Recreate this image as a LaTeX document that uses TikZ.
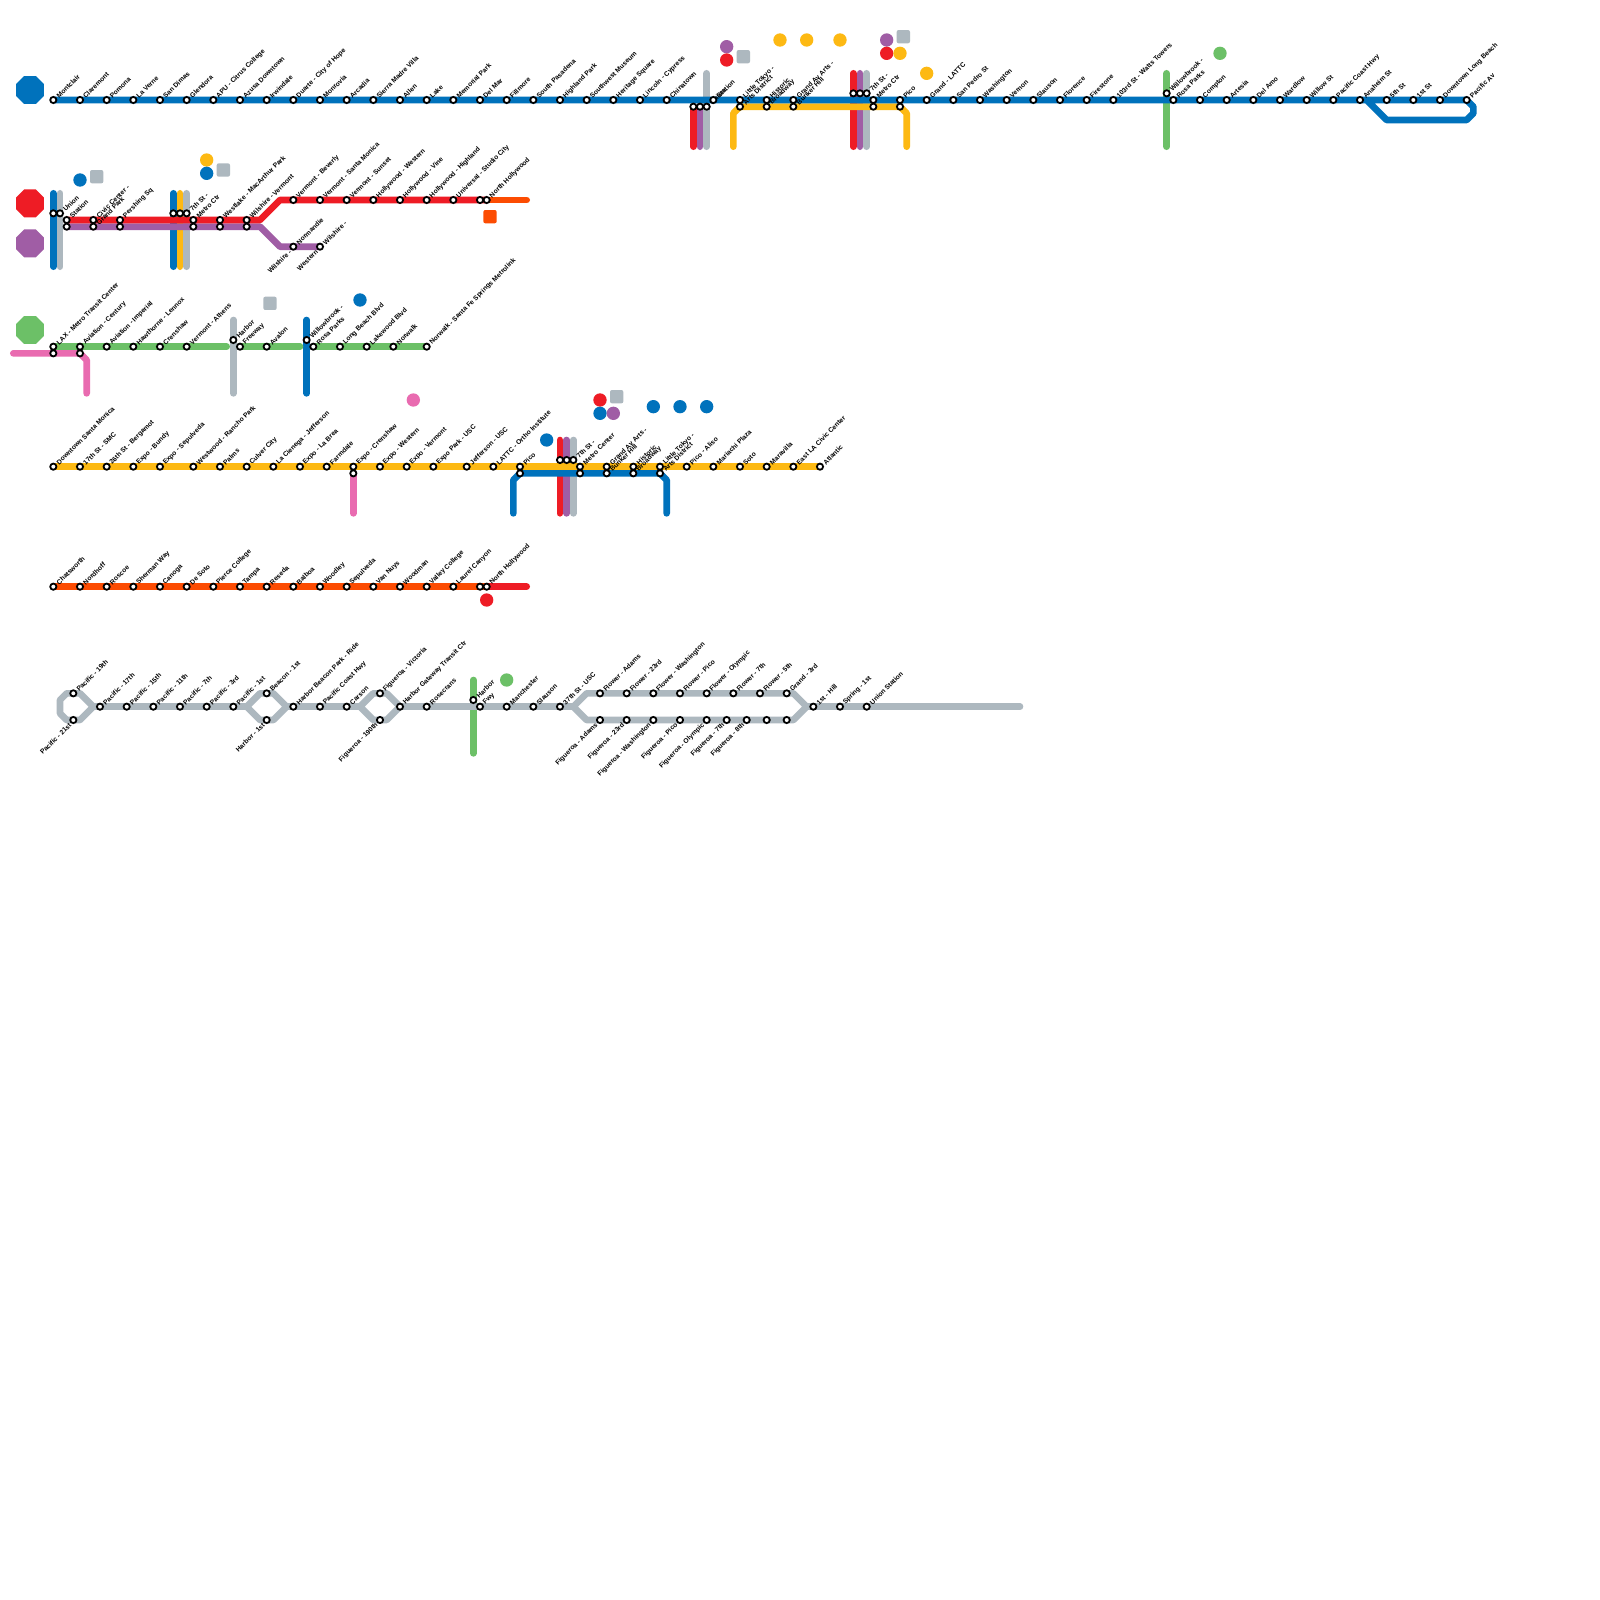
\documentclass[tikz,border=0pt]{standalone}
\usepackage{fontspec}
\setmainfont{Liberation Sans}
\usetikzlibrary{backgrounds,shapes.geometric}
\definecolor{mblue}{HTML}{0072BC}
\definecolor{mred}{HTML}{EE1C25}
\definecolor{mpurple}{HTML}{A05DA5}
\definecolor{mgrey}{HTML}{ADB8BF}
\definecolor{mgold}{HTML}{FDB913}
\definecolor{mgreen}{HTML}{6CC067}
\definecolor{mpink}{HTML}{E96BB0}
\definecolor{morange}{HTML}{FC4C02}
\tikzset{
  stn/.style={circle,draw=black,fill=white,line width=0.9pt,minimum size=3.1pt,inner sep=0pt,outer sep=0pt},
  lab/.style={font=\fontsize{3.35}{3.35}\selectfont\bfseries,text=black,rotate=45,inner sep=0pt,outer sep=0pt},
  ln/.style={line width=3.333pt,line cap=round,line join=round},
  dot/.style={circle,minimum size=6.667pt,inner sep=0pt,outer sep=0pt},
  sq/.style={rectangle,rounded corners=1pt,minimum size=6.667pt,inner sep=0pt,outer sep=0pt},
  octa/.style={regular polygon,regular polygon sides=8,minimum size=15.15pt,inner sep=0pt,outer sep=0pt}
}
\newcommand{\st}[4]{\node[stn] (#1) at (#2,#3) {};\node[lab,anchor=west] (#1t) at (#2+4.3,#3-3.1) {#4};}
\newcommand{\sd}[4]{\node[stn] (#1) at (#2,#3) {};\node[lab,anchor=east] (#1t) at (#2-3.2,#3+4.2) {#4};}
\newcommand{\sn}[3]{\node[stn] (#1) at (#2,#3) {};}
\newcommand{\dl}[4]{\node[lab,anchor=east] (#1t) at (#2-3.2,#3+4.2) {#4};}
\begin{document}
\begin{tikzpicture}[x=0.5pt,y=-0.5pt]
\useasboundingbox (0,0) rectangle (1600,1600);
% legend
\node[octa,fill=mblue] (legA) at (30,90) {};
\node[octa,fill=mred] (legB) at (30,203.33) {};
\node[octa,fill=mpurple] (legC) at (30,243.33) {};
\node[octa,fill=mgreen] (legD) at (30,330) {};
% markers
\node[dot,fill=mpurple] (k1) at (726.67,46.67) {};
\node[dot,fill=mred] (k2) at (726.67,60) {};
\node[sq,fill=mgrey] (k3) at (743.33,56.67) {};
\node[dot,fill=mgold] (k4) at (780,40) {};
\node[dot,fill=mgold] (k5) at (806.67,40) {};
\node[dot,fill=mgold] (k6) at (840,40) {};
\node[dot,fill=mpurple] (k7) at (886.67,40) {};
\node[dot,fill=mred] (k8) at (886.67,53.33) {};
\node[dot,fill=mgold] (k9) at (900,53.33) {};
\node[sq,fill=mgrey] (k10) at (903.33,36.67) {};
\node[dot,fill=mgold] (k11) at (926.67,73.33) {};
\node[dot,fill=mgreen] (k12) at (1220,53.33) {};
\node[dot,fill=mblue] (k13) at (80,180) {};
\node[sq,fill=mgrey] (k14) at (96.67,176.67) {};
\node[dot,fill=mgold] (k15) at (206.67,160) {};
\node[dot,fill=mblue] (k16) at (206.67,173.33) {};
\node[sq,fill=mgrey] (k17) at (223.33,170) {};
\node[sq,fill=morange] (k18) at (490,216.67) {};
\node[sq,fill=mgrey] (k19) at (270,303.33) {};
\node[dot,fill=mblue] (k20) at (360,300) {};
\node[dot,fill=mpink] (k21) at (413.33,400) {};
\node[dot,fill=mred] (k22) at (600,400) {};
\node[sq,fill=mgrey] (k23) at (616.67,396.67) {};
\node[dot,fill=mblue] (k24) at (600,413.33) {};
\node[dot,fill=mpurple] (k25) at (613.33,413.33) {};
\node[dot,fill=mblue] (k26) at (653.33,406.67) {};
\node[dot,fill=mblue] (k27) at (680,406.67) {};
\node[dot,fill=mblue] (k28) at (706.67,406.67) {};
\node[dot,fill=mblue] (k29) at (546.67,440) {};
\node[dot,fill=mred] (k30) at (486.67,600) {};
\node[dot,fill=mgreen] (k31) at (506.67,680) {};
% row 1
\st{a1}{53.33}{100}{Montclair}
\st{a2}{80}{100}{Claremont}
\st{a3}{106.67}{100}{Pomona}
\st{a4}{133.33}{100}{La Verne}
\st{a5}{160}{100}{San Dimas}
\st{a6}{186.67}{100}{Glendora}
\st{a7}{213.33}{100}{APU - Citrus College}
\st{a8}{240}{100}{Azusa Downtown}
\st{a9}{266.67}{100}{Irwindale}
\st{a10}{293.33}{100}{Duarte - City of Hope}
\st{a11}{320}{100}{Monrovia}
\st{a12}{346.67}{100}{Arcadia}
\st{a13}{373.33}{100}{Sierra Madre Villa}
\st{a14}{400}{100}{Allen}
\st{a15}{426.67}{100}{Lake}
\st{a16}{453.33}{100}{Memorial Park}
\st{a17}{480}{100}{Del Mar}
\st{a18}{506.67}{100}{Fillmore}
\st{a19}{533.33}{100}{South Pasadena}
\st{a20}{560}{100}{Highland Park}
\st{a21}{586.67}{100}{Southwest Museum}
\st{a22}{613.33}{100}{Heritage Square}
\st{a23}{640}{100}{Lincoln - Cypress}
\st{a24}{666.67}{100}{Chinatown}
\sn{u1}{693.33}{106.67}
\sn{u2}{700}{106.67}
\st{u3}{706.67}{106.67}{Union}
\st{a25}{713.33}{100}{Station}
\st{a26}{740}{100}{Little Tokyo -}
\st{y1}{740}{106.67}{Arts District}
\st{a27}{766.67}{100}{Historic}
\st{y2}{766.67}{106.67}{Broadway}
\st{a28}{793.33}{100}{Grand Av Arts -}
\st{y3}{793.33}{106.67}{Bunker Hill}
\sn{s1}{853.33}{93.33}
\sn{s2}{860}{93.33}
\st{s3}{866.67}{93.33}{7th St -}
\st{a29}{873.33}{100}{Metro Ctr}
\sn{y4}{873.33}{106.67}
\st{a30}{900}{100}{Pico}
\sn{y5}{900}{106.67}
\st{a31}{926.67}{100}{Grand - LATTC}
\st{a32}{953.33}{100}{San Pedro St}
\st{a33}{980}{100}{Washington}
\st{a34}{1006.67}{100}{Vernon}
\st{a35}{1033.33}{100}{Slauson}
\st{a36}{1060}{100}{Florence}
\st{a37}{1086.67}{100}{Firestone}
\st{a38}{1113.33}{100}{103rd St - Watts Towers}
\st{w1}{1166.67}{93.33}{Willowbrook -}
\st{a39}{1173.33}{100}{Rosa Parks}
\st{a40}{1200}{100}{Compton}
\st{a41}{1226.67}{100}{Artesia}
\st{a42}{1253.33}{100}{Del Amo}
\st{a43}{1280}{100}{Wardlow}
\st{a44}{1306.67}{100}{Willow St}
\st{a45}{1333.33}{100}{Pacific Coast Hwy}
\st{a46}{1360}{100}{Anaheim St}
\st{a47}{1386.67}{100}{5th St}
\st{a48}{1413.33}{100}{1st St}
\st{a49}{1440}{100}{Downtown Long Beach}
\st{a50}{1466.67}{100}{Pacific Av}
% row 2
\sn{b1}{53.33}{213.33}
\st{b2}{60}{213.33}{Union}
\st{b3}{66.67}{220}{Station}
\sn{c3}{66.67}{226.67}
\st{b4}{93.33}{220}{Civic Center -}
\st{c4}{93.33}{226.67}{Grand Park}
\st{b5}{120}{220}{Pershing Sq}
\sn{c5}{120}{226.67}
\sn{b6}{173.33}{213.33}
\sn{b7}{180}{213.33}
\st{b8}{186.67}{213.33}{7th St -}
\st{b9}{193.33}{220}{Metro Ctr}
\sn{c9}{193.33}{226.67}
\st{b10}{220}{220}{Westlake - MacArthur Park}
\sn{c10}{220}{226.67}
\st{b11}{246.67}{220}{Wilshire - Vermont}
\sn{c11}{246.67}{226.67}
\st{b12}{293.33}{200}{Vermont - Beverly}
\st{b13}{320}{200}{Vermont - Santa Monica}
\st{b14}{346.67}{200}{Vermont - Sunset}
\st{b15}{373.33}{200}{Hollywood - Western}
\st{b16}{400}{200}{Hollywood - Vine}
\st{b17}{426.67}{200}{Hollywood - Highland}
\st{b18}{453.33}{200}{Universal - Studio City}
\sn{b19}{480}{200}
\st{b20}{486.67}{200}{North Hollywood}
\st{c12}{293.33}{246.67}{Normandie}
\dl{c12d}{293.33}{246.67}{Wilshire -}
\st{c13}{320}{246.67}{Wilshire -}
\dl{c13d}{320}{246.67}{Western}
% row 3
\st{d1}{53.33}{346.67}{LAX - Metro Transit Center}
\sn{e1}{53.33}{353.33}
\st{d2}{80}{346.67}{Aviation - Century}
\sn{e2}{80}{353.33}
\st{d3}{106.67}{346.67}{Aviation - Imperial}
\st{d4}{133.33}{346.67}{Hawthorne - Lennox}
\st{d5}{160}{346.67}{Crenshaw}
\st{d6}{186.67}{346.67}{Vermont - Athens}
\st{d7}{233.33}{340}{Harbor}
\st{d8}{240}{346.67}{Freeway}
\st{d9}{266.67}{346.67}{Avalon}
\st{d10}{306.67}{340}{Willowbrook -}
\st{d11}{313.33}{346.67}{Rosa Parks}
\st{d12}{340}{346.67}{Long Beach Blvd}
\st{d13}{366.67}{346.67}{Lakewood Blvd}
\st{d14}{393.33}{346.67}{Norwalk}
\st{d15}{426.67}{346.67}{Norwalk - Santa Fe Springs Metrolink}
% row 4
\st{f1}{53.33}{466.67}{Downtown Santa Monica}
\st{f2}{80}{466.67}{17th St - SMC}
\st{f3}{106.67}{466.67}{26th St - Bergamot}
\st{f4}{133.33}{466.67}{Expo - Bundy}
\st{f5}{160}{466.67}{Expo - Sepulveda}
\st{f6}{193.33}{466.67}{Westwood - Rancho Park}
\st{f7}{220}{466.67}{Palms}
\st{f8}{246.67}{466.67}{Culver City}
\st{f9}{273.33}{466.67}{La Cienega - Jefferson}
\st{f10}{300}{466.67}{Expo - La Brea}
\st{f11}{326.67}{466.67}{Farmdale}
\st{f12}{353.33}{466.67}{Expo - Crenshaw}
\sn{f12p}{353.33}{473.33}
\st{f13}{380}{466.67}{Expo - Western}
\st{f14}{406.67}{466.67}{Expo - Vermont}
\st{f15}{433.33}{466.67}{Expo Park - USC}
\st{f16}{466.67}{466.67}{Jefferson - USC}
\st{f17}{493.33}{466.67}{LATTC - Ortho Institute}
\st{f18}{520}{466.67}{Pico}
\sn{g18}{520}{473.33}
\sn{t1}{560}{460}
\sn{t2}{566.67}{460}
\st{t3}{573.33}{460}{7th St -}
\st{f19}{580}{466.67}{Metro Center}
\sn{g19}{580}{473.33}
\st{f20}{606.67}{466.67}{Grand Av Arts -}
\st{g20}{606.67}{473.33}{Bunker Hill}
\st{f21}{633.33}{466.67}{Historic}
\st{g21}{633.33}{473.33}{Broadway}
\st{f22}{660}{466.67}{Little Tokyo -}
\st{g22}{660}{473.33}{Arts District}
\st{f23}{686.67}{466.67}{Pico - Aliso}
\st{f24}{713.33}{466.67}{Mariachi Plaza}
\st{f25}{740}{466.67}{Soto}
\st{f26}{766.67}{466.67}{Maravilla}
\st{f27}{793.33}{466.67}{East LA Civic Center}
\st{f28}{820}{466.67}{Atlantic}
% row 5
\st{h1}{53.33}{586.67}{Chatsworth}
\st{h2}{80}{586.67}{Nordhoff}
\st{h3}{106.67}{586.67}{Roscoe}
\st{h4}{133.33}{586.67}{Sherman Way}
\st{h5}{160}{586.67}{Canoga}
\st{h6}{186.67}{586.67}{De Soto}
\st{h7}{213.33}{586.67}{Pierce College}
\st{h8}{240}{586.67}{Tampa}
\st{h9}{266.67}{586.67}{Reseda}
\st{h10}{293.33}{586.67}{Balboa}
\st{h11}{320}{586.67}{Woodley}
\st{h12}{346.67}{586.67}{Sepulveda}
\st{h13}{373.33}{586.67}{Van Nuys}
\st{h14}{400}{586.67}{Woodman}
\st{h15}{426.67}{586.67}{Valley College}
\st{h16}{453.33}{586.67}{Laurel Canyon}
\sn{h17}{480}{586.67}
\st{h18}{486.67}{586.67}{North Hollywood}
% row 6
\st{j1}{73.33}{693.33}{Pacific - 19th}
\sd{j2}{73.33}{720}{Pacific - 21st}
\st{j3}{100}{706.67}{Pacific - 17th}
\st{j4}{126.67}{706.67}{Pacific - 15th}
\st{j5}{153.33}{706.67}{Pacific - 11th}
\st{j6}{180}{706.67}{Pacific - 7th}
\st{j7}{206.67}{706.67}{Pacific - 3rd}
\st{j8}{233.33}{706.67}{Pacific - 1st}
\st{j9}{266.67}{693.33}{Beacon - 1st}
\sd{j10}{266.67}{720}{Harbor - 1st}
\st{j11}{293.33}{706.67}{Harbor Beacon Park - Ride}
\st{j12}{320}{706.67}{Pacific Coast Hwy}
\st{j13}{346.67}{706.67}{Carson}
\st{j14}{380}{693.33}{Figueroa - Victoria}
\sd{j15}{380}{720}{Figueroa - 190th}
\st{j16}{400}{706.67}{Harbor Gateway Transit Ctr}
\st{j17}{426.67}{706.67}{Rosecrans}
\st{j18}{473.33}{700}{Harbor}
\st{j19}{480}{706.67}{Fwy}
\st{j20}{506.67}{706.67}{Manchester}
\st{j21}{533.33}{706.67}{Slauson}
\st{j22}{560}{706.67}{37th St - USC}
\st{l1}{600}{693.33}{Flower - Adams}
\st{l2}{626.67}{693.33}{Flower - 23rd}
\st{l3}{653.33}{693.33}{Flower - Washington}
\st{l4}{680}{693.33}{Flower - Pico}
\st{l5}{706.67}{693.33}{Flower - Olympic}
\st{l6}{733.33}{693.33}{Flower - 7th}
\st{l7}{760}{693.33}{Flower - 5th}
\st{l8}{786.67}{693.33}{Grand - 3rd}
\sd{m1}{600}{720}{Figueroa - Adams}
\sd{m2}{626.67}{720}{Figueroa - 23rd}
\sd{m3}{653.33}{720}{Figueroa - Washington}
\sd{m4}{680}{720}{Figueroa - Pico}
\sd{m5}{706.67}{720}{Figueroa - Olympic}
\sd{m6}{726.67}{720}{Figueroa - 7th}
\sd{m7}{746.67}{720}{Figueroa - 8th}
\sn{m8}{766.67}{720}
\sn{m9}{786.67}{720}
\st{j23}{813.33}{706.67}{1st - Hill}
\st{j24}{840}{706.67}{Spring - 1st}
\st{j25}{866.67}{706.67}{Union Station}
% free ends and bends
\coordinate (ugT) at (706.67,73.33);
\coordinate (ugB) at (706.67,146.67);
\coordinate (urB) at (693.33,146.67);
\coordinate (upB) at (700,146.67);
\coordinate (srT) at (853.33,73.33);
\coordinate (srB) at (853.33,146.67);
\coordinate (spT) at (860,73.33);
\coordinate (spB) at (860,146.67);
\coordinate (sgT) at (866.67,73.33);
\coordinate (sgB) at (866.67,146.67);
\coordinate (wT) at (1166.67,73.33);
\coordinate (wB) at (1166.67,146.67);
\coordinate (yL1) at (733.33,146.67);
\coordinate (yL2) at (733.33,113.33);
\coordinate (yR1) at (906.67,113.33);
\coordinate (yR2) at (906.67,146.67);
\coordinate (lp1) at (1366.67,100);
\coordinate (lp2) at (1386.67,120);
\coordinate (lp3) at (1466.67,120);
\coordinate (lp4) at (1473.33,113.33);
\coordinate (lp5) at (1473.33,106.67);
\begin{scope}[on background layer]
\fill[white] (0,0) rectangle (1600,1600);
% row 1
\draw[ln,mgrey] (ugT) -- (ugB);
\draw[ln,mred] (u1.center) -- (urB);
\draw[ln,mpurple] (u2.center) -- (upB);
\draw[ln,mred] (srT) -- (srB);
\draw[ln,mpurple] (spT) -- (spB);
\draw[ln,mgrey] (sgT) -- (sgB);
\draw[ln,mgreen] (wT) -- (wB);
\draw[ln,mgold] (yL1) -- (yL2) -- (y1.center) -- (y5.center) -- (yR1) -- (yR2);
\draw[ln,mblue] (a1.center) -- (a50.center) -- (lp5) -- (lp4) -- (lp3) -- (lp2) -- (lp1);
% row 2
\draw[ln,mblue] (53.33,193.33) coordinate (bbT) -- (53.33,266.67) coordinate (bbB);
\draw[ln,mgrey] (60,193.33) coordinate (bgT) -- (60,266.67) coordinate (bgB);
\draw[ln,mblue] (173.33,193.33) coordinate (sbT) -- (173.33,266.67) coordinate (sbB);
\draw[ln,mgold] (180,193.33) coordinate (syT) -- (180,266.67) coordinate (syB);
\draw[ln,mgrey] (186.67,193.33) coordinate (sgT2) -- (186.67,266.67) coordinate (sgB2);
\draw[ln,morange] (b20.center) -- (526.67,200) coordinate (oE);
\draw[ln,mpurple] (c3.center) -- (260,226.67) coordinate (pc1) -- (280,246.67) coordinate (pc2) -- (c13.center);
\draw[ln,mred] (b3.center) -- (260,220) coordinate (rc1) -- (280,200) coordinate (rc2) -- (b20.center);
% row 3
\draw[ln,mgrey] (233.33,320) coordinate (hgT) -- (233.33,393.33) coordinate (hgB);
\draw[ln,mblue] (306.67,320) coordinate (hbT) -- (306.67,393.33) coordinate (hbB);
\draw[ln,mgreen] (d1.center) -- (226.67,346.67) coordinate (gE1);
\draw[ln,mgreen] (d8.center) -- (300,346.67) coordinate (gE2);
\draw[ln,mgreen] (d11.center) -- (d15.center);
\draw[ln,mpink] (13.33,353.33) coordinate (kS) -- (e2.center) -- (86.67,360) coordinate (kC) -- (86.67,393.33) coordinate (kE);
% row 4
\draw[ln,mred] (560,440) coordinate (trT) -- (560,513.33) coordinate (trB);
\draw[ln,mpurple] (566.67,440) coordinate (tpT) -- (566.67,513.33) coordinate (tpB);
\draw[ln,mgrey] (573.33,440) coordinate (tgT) -- (573.33,513.33) coordinate (tgB);
\draw[ln,mpink] (f12p.center) -- (353.33,513.33) coordinate (fpB);
\draw[ln,mgold] (f1.center) -- (f28.center);
\draw[ln,mblue] (513.33,513.33) coordinate (nbL) -- (513.33,480) coordinate (nbL2) -- (g18.center) -- (g22.center) -- (666.67,480) coordinate (nbR2) -- (666.67,513.33) coordinate (nbR);
% row 5
\draw[ln,morange] (h1.center) -- (h18.center);
\draw[ln,mred] (h18.center) -- (526.67,586.67) coordinate (hE);
% row 6
\draw[ln,mgreen] (473.33,680) coordinate (hgrT) -- (473.33,753.33) coordinate (hgrB);
\draw[ln,mgrey] (93.33,706.67) coordinate (p0) -- (80,693.33) coordinate (p1) -- (66.67,693.33) coordinate (p2) -- (60,700) coordinate (p3) -- (60,713.33) coordinate (p4) -- (66.67,720) coordinate (p5) -- (80,720) coordinate (p6) -- cycle;
\draw[ln,mgrey] (246.67,706.67) coordinate (q0) -- (260,693.33) coordinate (q1) -- (273.33,693.33) coordinate (q2) -- (286.67,706.67) coordinate (q3) -- (273.33,720) coordinate (q4) -- (260,720) coordinate (q5) -- cycle;
\draw[ln,mgrey] (360,706.67) coordinate (r0) -- (373.33,693.33) coordinate (r1) -- (386.67,693.33) coordinate (r2) -- (400,706.67) coordinate (r3) -- (386.67,720) coordinate (r4) -- (373.33,720) coordinate (r5) -- cycle;
\draw[ln,mgrey] (573.33,706.67) coordinate (v0) -- (586.67,693.33) coordinate (v1) -- (793.33,693.33) coordinate (v2) -- (806.67,706.67) coordinate (v3) -- (793.33,720) coordinate (v4) -- (586.67,720) coordinate (v5) -- cycle;
\draw[ln,mgrey] (p0) -- (q0);
\draw[ln,mgrey] (q3) -- (r0);
\draw[ln,mgrey] (r3) -- (v0);
\draw[ln,mgrey] (v3) -- (1020,706.67) coordinate (pE);
\end{scope}
\end{tikzpicture}
\end{document}
